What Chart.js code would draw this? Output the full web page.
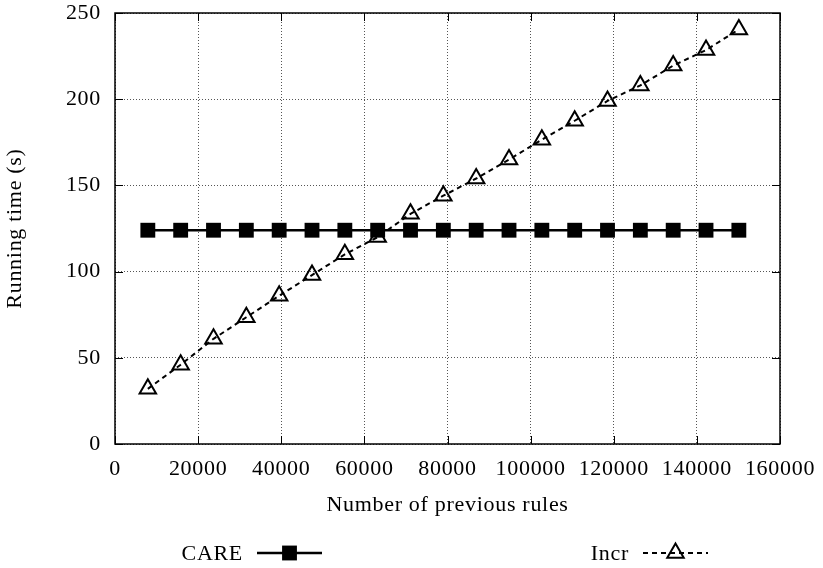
<!DOCTYPE html>
<html>
<head>
<meta charset="utf-8">
<title>Running time vs number of previous rules</title>
<script src="https://cdn.jsdelivr.net/npm/chart.js@4/dist/chart.umd.min.js"></script>
<style>
  html, body { margin: 0; padding: 0; background: #fff; }
  #wrap { width: 823px; height: 568px; }
</style>
</head>
<body>
<div id="wrap"><canvas id="chart" width="823" height="568"></canvas></div>
<script>
// data
const ruleCounts = [7900, 15800, 23700, 31600, 39500, 47400, 55300, 63200, 71100, 79000,
                    86900, 94800, 102700, 110600, 118500, 126400, 134300, 142200, 150100];
const careTimes = [124, 124, 124, 124, 124, 124, 124, 124, 124, 124,
                   124, 124, 124, 124, 124, 124, 124, 124, 124];
const incrTimes = [32, 46, 61, 73.5, 86, 98, 110, 120, 133.5, 144,
                   154, 165, 176.5, 187.5, 199, 208, 219.5, 228.5, 240.5];

const xTicks = [0, 20000, 40000, 60000, 80000, 100000, 120000, 140000, 160000];
const yTicks = [0, 50, 100, 150, 200, 250];

const FONT = '"Liberation Serif", "Times New Roman", serif';
const FONT_SIZE = 22;
const LETTER_SPACING = '0.7px'; // reference text is a little stretched sideways

function toPoints(xs, ys) {
  return xs.map((x, i) => ({ x: x, y: ys[i] }));
}

// wider text, set again each pass since a canvas resize resets the context
const textSpacing = {
  id: 'textSpacing',
  beforeUpdate(chart) { chart.ctx.letterSpacing = LETTER_SPACING; },
  beforeDraw(chart) { chart.ctx.letterSpacing = LETTER_SPACING; }
};

// box around the plot plus gnuplot style inner tick marks
const frameBox = {
  id: 'frameBox',
  afterDatasetsDraw(chart) {
    const { ctx, chartArea: a, scales } = chart;
    const tick = 8;
    ctx.save();
    ctx.strokeStyle = '#000';
    ctx.lineWidth = 1.5;
    ctx.setLineDash([]);
    ctx.strokeRect(a.left, a.top, a.right - a.left, a.bottom - a.top);
    ctx.lineWidth = 1;
    ctx.beginPath();
    yTicks.forEach(v => {
      const y = Math.round(scales.y.getPixelForValue(v)) + 0.5;
      ctx.moveTo(a.left, y); ctx.lineTo(a.left + tick, y);
      ctx.moveTo(a.right, y); ctx.lineTo(a.right - tick, y);
    });
    xTicks.forEach(v => {
      const x = Math.round(scales.x.getPixelForValue(v)) + 0.5;
      ctx.moveTo(x, a.bottom); ctx.lineTo(x, a.bottom - tick);
      ctx.moveTo(x, a.top); ctx.lineTo(x, a.top + tick);
    });
    ctx.stroke();
    ctx.restore();
  }
};

// legend under the axis title: label first, then line sample with marker
const bottomKey = {
  id: 'bottomKey',
  afterDraw(chart) {
    const ctx = chart.ctx;
    const y = 553;
    const entries = [
      { textRight: 243, x0: 257, x1: 322, ds: chart.data.datasets[0] },
      { textRight: 629, x0: 643, x1: 708, ds: chart.data.datasets[1] }
    ];
    ctx.save();
    ctx.font = FONT_SIZE + 'px ' + FONT;
    ctx.textAlign = 'right';
    ctx.textBaseline = 'middle';
    entries.forEach(e => {
      ctx.fillStyle = '#000';
      ctx.fillText(e.ds.label, e.textRight, y + 1);

      ctx.strokeStyle = e.ds.borderColor;
      ctx.lineWidth = e.ds.borderWidth;
      ctx.setLineDash(e.ds.borderDash || []);
      ctx.beginPath();
      ctx.moveTo(e.x0, y);
      ctx.lineTo(e.x1, y);
      ctx.stroke();

      ctx.setLineDash([]);
      ctx.fillStyle = e.ds.pointBackgroundColor;
      ctx.strokeStyle = e.ds.pointBorderColor;
      ctx.lineWidth = e.ds.pointBorderWidth;
      Chart.helpers.drawPoint(ctx, {
        pointStyle: e.ds.pointStyle,
        radius: e.ds.pointRadius,
        rotation: 0,
        borderWidth: e.ds.pointBorderWidth
      }, (e.x0 + e.x1) / 2, y);
    });
    ctx.restore();
  }
};

new Chart(document.getElementById('chart'), {
  type: 'line',
  data: {
    datasets: [
      {
        label: 'CARE',
        data: toPoints(ruleCounts, careTimes),
        borderColor: '#000',
        borderWidth: 2.5,
        pointStyle: 'rect',
        pointRadius: 10.5,
        pointBackgroundColor: '#000',
        pointBorderColor: '#000',
        pointBorderWidth: 0,
        tension: 0
      },
      {
        label: 'Incr',
        data: toPoints(ruleCounts, incrTimes),
        borderColor: '#000',
        borderWidth: 2,
        borderDash: [5, 4],
        pointStyle: 'triangle',
        pointRadius: 9.5,
        pointBackgroundColor: 'rgba(0,0,0,0)',
        pointBorderColor: '#000',
        pointBorderWidth: 2,
        tension: 0
      }
    ]
  },
  options: {
    responsive: false,
    animation: false,
    layout: { padding: { top: 13, right: 43, left: 0, bottom: 0 } },
    plugins: {
      legend: { display: false },
      tooltip: { enabled: false }
    },
    scales: {
      x: {
        type: 'linear',
        min: 0,
        max: 160000,
        afterBuildTicks: s => { s.ticks = xTicks.map(v => ({ value: v })); },
        afterFit: s => { s.height = 124; s.paddingLeft = 0; s.paddingRight = 0; },
        ticks: {
          padding: 12,
          color: '#000',
          maxRotation: 0,
          font: { family: FONT, size: FONT_SIZE },
          callback: v => String(v)
        },
        grid: { color: '#555', lineWidth: 1, drawTicks: false },
        border: { display: false, dash: [1, 2] },
        title: {
          display: true,
          text: 'Number of previous rules',
          color: '#000',
          font: { family: FONT, size: FONT_SIZE },
          padding: { top: 0, bottom: 50 }
        }
      },
      y: {
        type: 'linear',
        min: 0,
        max: 250,
        afterBuildTicks: s => { s.ticks = yTicks.map(v => ({ value: v })); },
        afterFit: s => { s.width = 115; s.paddingTop = 0; s.paddingBottom = 0; },
        ticks: {
          padding: 14,
          color: '#000',
          font: { family: FONT, size: FONT_SIZE },
          callback: v => String(v)
        },
        grid: { color: '#555', lineWidth: 1, drawTicks: false },
        border: { display: false, dash: [1, 2] },
        title: {
          display: true,
          text: 'Running time (s)',
          color: '#000',
          font: { family: FONT, size: FONT_SIZE },
          padding: { top: 2, bottom: 0 }
        }
      }
    }
  },
  plugins: [textSpacing, frameBox, bottomKey]
});
</script>
</body>
</html>
